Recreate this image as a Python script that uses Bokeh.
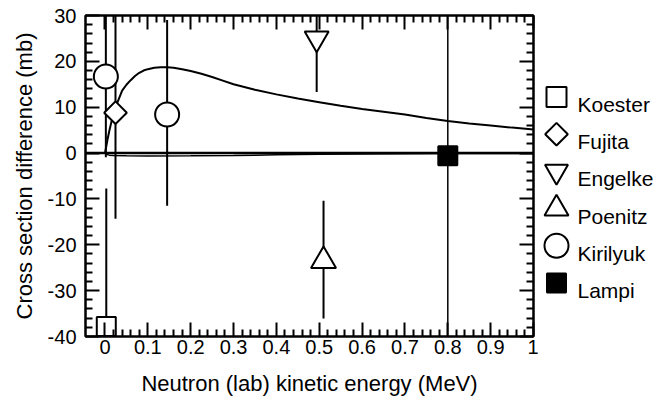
import math
from bokeh.plotting import figure
from bokeh.models import (Range1d, LinearAxis, FixedTicker, CustomJSTickFormatter, Span,
                          ColumnDataSource)
from bokeh.layouts import row
from bokeh.embed import file_html
from bokeh.resources import INLINE
from bokeh.core.properties import value

# ---------------- data ----------------
koester_x = [0.003]
koester_y = [-37.8]
koester_lo = [-68.0]
koester_hi = [-7.7]

fujita_x = [0.0245]
fujita_y = [8.8]
fujita_lo = [-14.3]
fujita_hi = [32.0]

engelke_x = [0.494]
engelke_y = [25.0]
engelke_lo = [13.3]
engelke_hi = [37.0]

poenitz_x = [0.51]
poenitz_y = [-23.5]
poenitz_lo = [-36.1]
poenitz_hi = [-10.4]

kirilyuk_x = [0.002, 0.145]
kirilyuk_y = [16.7, 8.4]
kirilyuk_lo = [-0.9, -11.5]
kirilyuk_hi = [34.4, 29.0]

lampi_x = [0.8]
lampi_y = [-0.6]
lampi_lo = [-50.0]
lampi_hi = [50.0]

# theory curves
curve_a_x = [0.000, 0.003, 0.006, 0.010, 0.015, 0.020, 0.025, 0.030, 0.040, 0.050,
             0.060, 0.070, 0.080, 0.090, 0.100, 0.115, 0.130, 0.145, 0.160, 0.180,
             0.200, 0.225, 0.250, 0.275, 0.300, 0.350, 0.400, 0.450, 0.500, 0.550,
             0.600, 0.650, 0.700, 0.750, 0.800, 0.850, 0.900, 0.950, 1.000]
curve_a_y = [0.0, 1.5, 3.0, 4.8, 6.8, 8.5, 10.0, 11.3, 13.6, 14.9,
             15.9, 16.8, 17.5, 18.0, 18.3, 18.6, 18.7, 18.7, 18.6, 18.3,
             17.9, 17.3, 16.6, 15.8, 15.0, 13.8, 12.8, 11.9, 11.1, 10.3,
             9.6, 9.0, 8.4, 7.65, 7.0, 6.45, 6.0, 5.55, 5.15]

curve_b_x = [0.0, 0.005, 0.01, 0.02, 0.05, 0.1, 0.2, 0.3, 0.35, 0.4, 0.5, 0.6,
             0.7, 0.8, 0.9, 1.0]
curve_b_y = [0.0, -0.3, -0.45, -0.55, -0.6, -0.62, -0.6, -0.55, -0.45, -0.38, -0.28,
             -0.2, -0.15, -0.12, -0.1, -0.1]

x_major = [0.0, 0.1, 0.2, 0.3, 0.4, 0.5, 0.6, 0.7, 0.8, 0.9, 1.0]
x_minor = [round(0.02 * i, 2) for i in range(1, 50) if i % 5]
y_major = [-40, -30, -20, -10, 0, 10, 20, 30]
y_minor = [v for v in range(-40, 31, 2) if v % 10]

legend_names = ["Koester", "Fujita", "Engelke", "Poenitz", "Kirilyuk", "Lampi"]
legend_markers = ["square", "square", "inverted_triangle", "triangle", "circle", "square"]
legend_angles = [0.0, math.pi / 4, 0.0, 0.0, 0.0, 0.0]
legend_sizes = [20, 16, 23, 24, 24, 19]
legend_fills = ["white", "white", "white", "white", "white", "black"]

FONT = "Liberation Sans"

# ---------------- main plot ----------------
p = figure(frame_width=448, frame_height=321,
           x_range=Range1d(-0.0455, 1.0), y_range=Range1d(-40, 30),
           output_backend="svg", toolbar_location=None,
           x_axis_location=None, y_axis_location=None,
           min_border_left=85, min_border_top=15, min_border_bottom=67, min_border_right=5)
p.outline_line_color = "black"
p.outline_line_width = 2
p.background_fill_color = "white"
p.border_fill_color = "white"
p.grid.visible = False

fmt = CustomJSTickFormatter(code="return String(Math.round(tick*10)/10)")
blank = CustomJSTickFormatter(code="return ''")


def style(ax, major, minor, labels):
    ax.ticker = FixedTicker(ticks=major, minor_ticks=minor)
    ax.axis_line_color = "black"
    ax.axis_line_width = 2
    ax.major_tick_in = 14
    ax.major_tick_out = 0
    ax.minor_tick_in = 7
    ax.minor_tick_out = 0
    ax.major_tick_line_width = 2
    ax.minor_tick_line_width = 2
    ax.major_tick_line_color = "black"
    ax.minor_tick_line_color = "black"
    if labels:
        ax.formatter = fmt
        ax.major_label_text_font = FONT
        ax.major_label_text_font_size = "20px"
        ax.major_label_text_color = "black"
        ax.axis_label_text_font = FONT
        ax.axis_label_text_font_size = "22px"
        ax.axis_label_text_font_style = "normal"
        ax.axis_label_text_color = "black"
    else:
        ax.formatter = blank
        ax.major_label_text_font_size = "0px"
        ax.major_label_standoff = 0


bottom = LinearAxis(axis_label="Neutron (lab) kinetic energy (MeV)")
style(bottom, x_major, x_minor, True)
bottom.major_label_standoff = 3
bottom.axis_label_standoff = 14
p.add_layout(bottom, "below")

left = LinearAxis(axis_label="Cross section difference (mb)")
style(left, y_major, y_minor, True)
left.major_label_standoff = 9
left.axis_label_standoff = 8
p.add_layout(left, "left")

top = LinearAxis()
style(top, x_major, x_minor, False)
p.add_layout(top, "above")

right = LinearAxis()
style(right, y_major, y_minor, False)
p.add_layout(right, "right")

# zero line
p.add_layout(Span(location=0, dimension="width", line_color="black", line_width=2.5,
                  level="underlay"))

# curves
p.line(curve_b_x, curve_b_y, line_color="black", line_width=1.5)
p.line(curve_a_x, curve_a_y, line_color="black", line_width=2)

# error bars
for xs, lo, hi, w in [(koester_x, koester_lo, koester_hi, 2),
                      (fujita_x, fujita_lo, fujita_hi, 2),
                      (engelke_x, engelke_lo, engelke_hi, 2),
                      (poenitz_x, poenitz_lo, poenitz_hi, 2),
                      (kirilyuk_x, kirilyuk_lo, kirilyuk_hi, 2),
                      (lampi_x, lampi_lo, lampi_hi, 1.5)]:
    p.segment(x0=xs, y0=lo, x1=xs, y1=hi, line_color="black", line_width=w)

# markers
mk = dict(line_color="black", line_width=2)
p.scatter(koester_x, koester_y, marker="square", size=19, fill_color="white", **mk)
p.scatter(fujita_x, fujita_y, marker="square", angle=math.pi / 4, size=16,
          fill_color="white", **mk)
p.scatter(engelke_x, engelke_y, marker="inverted_triangle", size=24, fill_color="white", **mk)
p.scatter(poenitz_x, poenitz_y, marker="triangle", size=25, fill_color="white", **mk)
p.scatter(kirilyuk_x, kirilyuk_y, marker="circle", size=24, fill_color="white", **mk)
p.scatter(lampi_x, lampi_y, marker="square", size=19, fill_color="black", **mk)

# ---------------- legend panel ----------------
LW, LH = 119, 403
leg = figure(frame_width=LW, frame_height=LH, x_range=Range1d(0, LW), y_range=Range1d(LH, 0),
             output_backend="svg", toolbar_location=None,
             x_axis_location=None, y_axis_location=None, min_border=0)
leg.outline_line_color = None
leg.grid.visible = False
leg.background_fill_color = "white"
leg.border_fill_color = "white"

row_y = [81.5 + 37.2 * i for i in range(len(legend_names))]
src = ColumnDataSource(dict(x=[18] * len(legend_names), y=row_y,
                            marker=legend_markers, angle=legend_angles,
                            size=legend_sizes, fill=legend_fills))
leg.scatter(x="x", y="y", marker="marker", angle="angle", size="size", fill_color="fill",
            line_color="black", line_width=2, source=src)
leg.text(x=[39] * len(legend_names), y=[v + 7.5 for v in row_y], text=legend_names,
         text_font=value(FONT), text_font_size=value("21px"), text_color="black",
         text_baseline="alphabetic", text_align="left")

layout = row(p, leg)
open("out.html", "w").write(file_html(layout, INLINE))
